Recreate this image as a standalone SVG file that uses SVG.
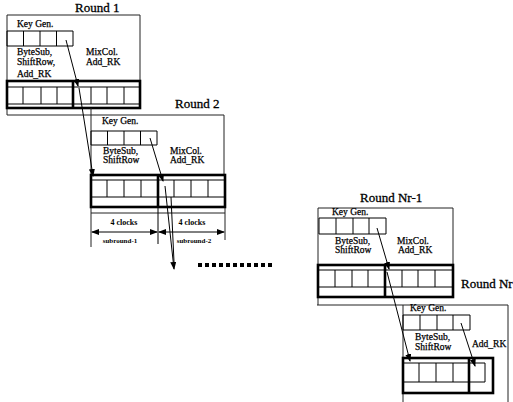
<svg xmlns="http://www.w3.org/2000/svg" width="513" height="402" viewBox="0 0 513 402">
<defs>
<style>
text{font-family:"Liberation Serif","Times New Roman",serif;fill:#000}
.lbl{font-size:13px;stroke:#000;stroke-width:0.3}
.s{font-size:9.5px;stroke:#000;stroke-width:0.25}
.c{font-size:8px;font-weight:bold;text-anchor:middle}
.sr{font-size:7px;font-weight:bold;text-anchor:middle}
.f{fill:none;stroke:#222;stroke-width:1}
.t{fill:none;stroke:#000;stroke-width:1}
.b{fill:none;stroke:#000;stroke-width:2.6}
.a{fill:none;stroke:#000;stroke-width:1;marker-end:url(#ah)}
.d{fill:none;stroke:#000;stroke-width:1;marker-start:url(#as);marker-end:url(#ah)}
</style>
<marker id="ah" markerWidth="8" markerHeight="6" refX="7" refY="3" orient="auto" markerUnits="userSpaceOnUse"><path d="M0,0 L8,3 L0,6 Z" fill="#000"/></marker>
<marker id="as" markerWidth="8" markerHeight="6" refX="1" refY="3" orient="auto" markerUnits="userSpaceOnUse"><path d="M8,0 L0,3 L8,6 Z" fill="#000"/></marker>
</defs>
<rect width="513" height="402" fill="#fff"/>

<g id="round1">
<path class="f" d="M7,115 V15 H140 V81 M7,115 H91"/>
<text class="lbl" x="75" y="12">Round 1</text>
<text class="s" x="17" y="27">Key Gen.</text>
<path class="t" d="M7,31 H73 V46 H7 Z M23.5,31 V46 M40,31 V46 M56.5,31 V46"/>
<text class="s" x="17" y="55">ByteSub,</text>
<text class="s" x="17" y="65">ShiftRow,</text>
<text class="s" x="17" y="77">Add_RK</text>
<text class="s" x="86" y="55">MixCol.</text>
<text class="s" x="86" y="65">Add_RK</text>
<path class="t" d="M7,87 H140 M7,104 H140 M23,87 V104 M41,87 V104 M57,87 V104 M91,87 V104 M107,87 V104 M124,87 V104"/>
<rect class="b" x="7" y="81" width="133" height="27"/>
<path class="b" d="M73,81 V108"/>
</g>

<g id="round2">
<path class="f" d="M91,108 V247 M91,115 H224 V175 M91,213 H225 M225,207 V240"/>
<text class="lbl" x="175" y="108">Round 2</text>
<text class="s" x="102" y="124">Key Gen.</text>
<path class="t" d="M91,131 H157 V145 H91 Z M107.5,131 V145 M124,131 V145 M140.5,131 V145"/>
<text class="s" x="103" y="154">ByteSub,</text>
<text class="s" x="103" y="163">ShiftRow</text>
<text class="s" x="170" y="154">MixCol.</text>
<text class="s" x="170" y="163">Add_RK</text>
<path class="t" d="M91,180 H225 M91,197 H225 M107,180 V197 M124,180 V197 M141,180 V197 M174,180 V197 M191,180 V197 M208,180 V197"/>
<rect class="b" x="91" y="175" width="134" height="32"/>
<path class="b" d="M158,175 V207"/>
<path class="t" d="M158,207 V244"/>
<text class="c" x="124" y="225">4 clocks</text>
<text class="c" x="192" y="225">4 clocks</text>
<path class="d" d="M92,232 H157"/>
<path class="d" d="M159,232 H224"/>
<text class="sr" x="120" y="243">subround-1</text>
<text class="sr" x="194" y="243">subround-2</text>
</g>

<g id="roundNr1">
<path class="f" d="M318,208 H453 V265 M318,208 V305 M317,305 H508"/>
<text class="lbl" x="360" y="202">Round Nr-1</text>
<text class="s" x="332" y="215">Key Gen.</text>
<path class="t" d="M319,218 H386 V234 H319 Z M336,218 V234 M353,218 V234 M369,218 V234"/>
<text class="s" x="335" y="244">ByteSub,</text>
<text class="s" x="335" y="253">ShiftRow</text>
<text class="s" x="397" y="244">MixCol.</text>
<text class="s" x="398" y="253">Add_RK</text>
<path class="t" d="M318,270 H453 M318,287 H453 M335,270 V287 M352,270 V287 M368,270 V287 M402,270 V287 M418,270 V287 M435,270 V287"/>
<rect class="b" x="318" y="265" width="135" height="32"/>
<path class="b" d="M385,265 V297"/>
</g>

<g id="roundNr">
<path class="f" d="M403,305 V402 M508,305 V402"/>
<text class="lbl" x="461" y="288">Round Nr</text>
<text class="s" x="410" y="311">Key Gen.</text>
<path class="t" d="M403,315 H470 V330 H403 Z M420,315 V330 M437,315 V330 M453,315 V330"/>
<text class="s" x="415" y="340">ByteSub,</text>
<text class="s" x="415" y="350">ShiftRow</text>
<text class="s" x="472" y="347">Add_RK</text>
<path class="t" d="M403,363 H485 V382 H403 M419,363 V382 M436,363 V382 M453,363 V382"/>
<rect class="b" x="403" y="358" width="90" height="35"/>
<path class="b" d="M469,358 V393"/>
</g>

<g id="connectors">
<path class="a" d="M66,40 L78,86"/>
<path class="a" d="M79,88 L93,176"/>
<path class="a" d="M150,138 L163,181"/>
<path class="a" d="M165,186 L174,269"/>
<path class="t" d="M171,197 L174,262"/>
<path class="a" d="M377,228 L389,269"/>
<path class="a" d="M387,272 L410,361"/>
<path class="a" d="M461,323 L475,366"/>
</g>

<g id="dots" fill="#000">
<rect x="198" y="263" width="4" height="4"/>
<rect x="205" y="263" width="4" height="4"/>
<rect x="212" y="263" width="4" height="4"/>
<rect x="219" y="263" width="4" height="4"/>
<rect x="226" y="263" width="4" height="4"/>
<rect x="233" y="263" width="4" height="4"/>
<rect x="240" y="263" width="4" height="4"/>
<rect x="247" y="263" width="4" height="4"/>
<rect x="254" y="263" width="4" height="4"/>
<rect x="261" y="263" width="4" height="4"/>
<rect x="268" y="263" width="4" height="4"/>
</g>
</svg>
